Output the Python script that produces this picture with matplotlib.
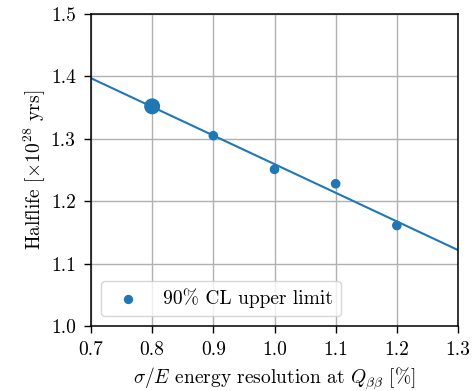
import numpy as np
import matplotlib
matplotlib.use("Agg")
import matplotlib.pyplot as plt

plt.rcParams["font.family"] = "serif"
plt.rcParams["font.serif"] = ["cmr10"]
plt.rcParams["mathtext.fontset"] = "cm"
plt.rcParams["axes.formatter.use_mathtext"] = True
plt.rcParams["font.size"] = 14

# energy resolution (%) and 90% CL half-life limits (1e28 yr)
resolution = [0.8, 0.9, 1.0, 1.1, 1.2]
halflife = [1.352, 1.305, 1.251, 1.228, 1.161]
marker_sizes = [110, 35, 35, 35, 35]

x_ticks = [0.7, 0.8, 0.9, 1.0, 1.1, 1.2, 1.3]
y_ticks = [1.0, 1.1, 1.2, 1.3, 1.4, 1.5]

fig = plt.figure(figsize=(4.75, 3.91), dpi=100)
ax = fig.add_axes([91 / 475, 65 / 391, 367 / 475, 312 / 391])

# linear trend through the limits
coef = np.polyfit(resolution, halflife, 1)
xs = np.array([0.7, 1.3])
ax.plot(xs, np.polyval(coef, xs), color="#1f77b4", lw=1.5, zorder=2)

ax.scatter(resolution, halflife, s=marker_sizes, color="#1f77b4",
           zorder=3, label="90% CL upper limit")

ax.set_xlim(0.7, 1.3)
ax.set_ylim(1.0, 1.5)
ax.set_xticks(x_ticks)
ax.set_yticks(y_ticks)
ax.set_xticklabels([f"{v:.1f}" for v in x_ticks])
ax.set_yticklabels([f"{v:.1f}" for v in y_ticks])
ax.grid(True, color="#b0b0b0", lw=1.0)
ax.set_axisbelow(True)
ax.tick_params(labelsize=14, length=5, width=1.0, pad=6)
for sp in ax.spines.values():
    sp.set_linewidth(1.1)

ax.set_xlabel(r"$\sigma/E$ energy resolution at $Q_{\beta\beta}$ [%]",
              fontsize=14, labelpad=5)
ax.set_ylabel(r"Halflife [$\times 10^{28}$ yrs]", fontsize=14, labelpad=2)

leg = ax.legend(loc="lower left", fontsize=14, markerscale=0.67, framealpha=0.8)

fig.savefig("out.png", dpi=100)
